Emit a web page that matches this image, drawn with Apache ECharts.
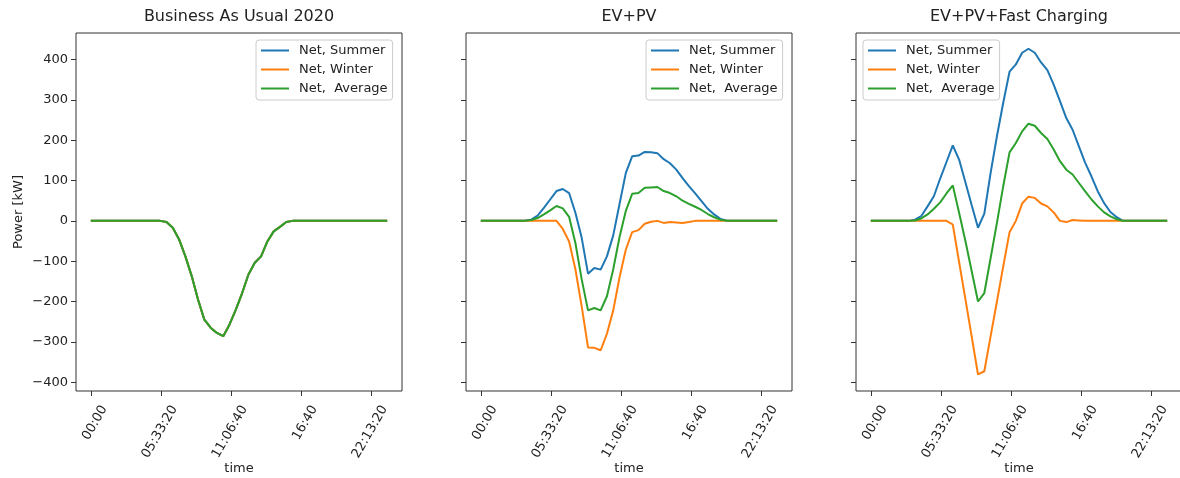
<!DOCTYPE html>
<html><head><meta charset="utf-8">
<script src="https://cdn.jsdelivr.net/npm/echarts@6/dist/echarts.min.js"></script>
<style>html,body{margin:0;padding:0;background:#fff}#c{width:1180px;height:478px}</style>
</head><body><div id="c"></div>
<script>
// time of day in seconds (30-minute steps)
const timeSec = [0,1800,3600,5400,7200,9000,10800,12600,14400,16200,18000,19800,
  21600,23400,25200,27000,28800,30600,32400,34200,36000,37800,39600,41400,
  43200,45000,46800,48600,50400,52200,54000,55800,57600,59400,61200,63000,
  64800,66600,68400,70200,72000,73800,75600,77400,79200,81000,82800,84600];

const panelTitles = ['Business As Usual 2020', 'EV+PV', 'EV+PV+Fast Charging'];
const seriesNames = ['Net, Summer', 'Net, Winter', 'Net,  Average'];

const xTickValues = [0, 20000, 40000, 60000, 80000];
const xTickLabels = ['00:00', '05:33:20', '11:06:40', '16:40', '22:13:20'];
const yTickValues = [-400, -300, -200, -100, 0, 100, 200, 300, 400];

// Business As Usual 2020
const bauSummer = [0,0,0,0,0,0,0,0,0,0,0,0,
  -3,-17,-46,-88,-137,-195,-245,-265,-278,-286,
  -257,-220,-179,-133,-104,-88,-51,-26,-15,-3,
  0,0,0,0,0,0,0,0,0,0,0,0,0,0,0,0];
const bauWinter = [0,0,0,0,0,0,0,0,0,0,0,0,
  -3,-17,-46,-88,-137,-195,-245,-265,-278,-286,
  -257,-220,-179,-133,-104,-88,-51,-26,-15,-3,
  0,0,0,0,0,0,0,0,0,0,0,0,0,0,0,0];
const bauAverage = [0,0,0,0,0,0,0,0,0,0,0,0,
  -3,-17,-46,-88,-137,-195,-245,-265,-278,-286,
  -257,-220,-179,-133,-104,-88,-51,-26,-15,-3,
  0,0,0,0,0,0,0,0,0,0,0,0,0,0,0,0];

// EV+PV
const evSummer = [0,0,0,0,0,0,0,
  1,3,13,32,53,74,79,69,20,-42,
  -131,-117,-121,-88,-36,42,119,160,162,171,
  170,168,153,143,127,106,86,68,49,30,
  16,5,1,
  0,0,0,0,0,0,0,0];
const evWinter = [0,0,0,0,0,0,0,0,0,0,0,0,0,
  -20,-51,-120,-212,-314,-315,-321,-280,-222,-140,
  -71,-28,-23,-7,-2,0,-5,-3,-4,-5,
  -3,
  0,0,0,0,0,0,0,0,0,0,0,0,0,0];
const evAverage = [0,0,0,0,0,0,0,0,
  2,7,16,26,37,31,10,-55,-145,-222,
  -216,-222,-187,-120,-40,25,67,69,82,83,
  84,74,69,61,50,42,35,27,17,9,
  3,
  0,0,0,0,0,0,0,0,0];

// EV+PV+Fast Charging
const fcSummer = [0,0,0,0,0,0,0,
  3,12,36,61,105,146,187,152,96,39,
  -17,18,119,210,293,370,388,417,427,417,
  393,374,338,297,255,226,185,144,110,73,
  44,22,9,
  0,0,0,0,0,0,0,0];
const fcWinter = [0,0,0,0,0,0,0,0,0,0,0,0,0,
  -9,-102,-194,-287,-381,-373,-286,-200,-113,-28,
  0,43,60,57,43,36,21,0,-3,2,
  1,
  0,0,0,0,0,0,0,0,0,0,0,0,0,0];
const fcAverage = [0,0,0,0,0,0,0,
  1,6,16,30,46,68,88,20,-50,-125,
  -200,-179,-92,-5,86,170,193,222,241,236,
  218,203,177,148,127,115,94,73,53,36,
  21,11,4,
  0,0,0,0,0,0,0,0];

const panelData = [
  [bauSummer, bauWinter, bauAverage],
  [evSummer, evWinter, evAverage],
  [fcSummer, fcWinter, fcAverage]
];

const FONT = 'DejaVu Sans';
const TXT = '#222';
const AX = '#333';
const colors = ['#1f77b4', '#ff7f0e', '#2ca02c'];
const gridLefts = [76, 466, 856];
const legendLefts = [256, 646, 863];
const lineIcon = 'path://M0,0L28,0L28,2L0,2Z';

const grid = [], xAxis = [], yAxis = [], title = [], legend = [], series = [];
gridLefts.forEach((l, g) => {
  grid.push({left: l, top: 33, width: 326, height: 358, show: true,
    outerBoundsMode: 'none',
    borderColor: AX, borderWidth: 1, backgroundColor: 'transparent', containLabel: false});
  title.push({text: panelTitles[g], left: l + 163, top: 9, textAlign: 'center', padding: 0,
    textStyle: {fontFamily: FONT, fontSize: 16, fontWeight: 'normal', color: TXT}});
  xAxis.push({gridIndex: g, type: 'value', min: -4230, max: 88830, position: 'bottom',
    splitLine: {show: false}, axisLine: {show: false, onZero: false},
    axisTick: {show: true, customValues: xTickValues, length: 5, lineStyle: {color: AX}},
    axisLabel: {customValues: xTickValues, rotate: 60, align: 'center', verticalAlign: 'middle',
      margin: 39,
      formatter: v => '{t|' + xTickLabels[xTickValues.indexOf(v)] + '}',
      rich: {t: {width: 54, align: 'right', fontSize: 13, fontFamily: FONT, color: TXT}}},
    name: 'time', nameLocation: 'middle', nameGap: 71, nameMoveOverlap: false,
    nameTextStyle: {fontFamily: FONT, fontSize: 13, color: TXT}});
  yAxis.push({gridIndex: g, type: 'value', min: -422, max: 466, position: 'left',
    splitLine: {show: false}, axisLine: {show: false, onZero: false},
    axisTick: {show: true, customValues: yTickValues, length: 5, lineStyle: {color: AX}},
    axisLabel: {show: g === 0, customValues: yTickValues, margin: 8,
      formatter: v => String(v).replace('-', '\u2212'),
      fontFamily: FONT, fontSize: 13, color: TXT},
    name: g === 0 ? 'Power [kW]' : '', nameLocation: 'middle', nameGap: 51, nameRotate: 90,
    nameMoveOverlap: false,
    nameTextStyle: {fontFamily: FONT, fontSize: 13, color: TXT}});
  legend.push({data: seriesNames.map(n => ({name: n, icon: lineIcon})),
    orient: 'vertical', left: legendLefts[g], top: 40, symbolKeepAspect: true,
    padding: [4, 5, 5, 5], itemWidth: 28, itemHeight: 14, itemGap: 6,
    borderColor: '#cccccc', borderWidth: 1, borderRadius: 3,
    backgroundColor: 'rgba(255,255,255,0.8)', selectedMode: false,
    textStyle: {fontFamily: FONT, fontSize: 13, color: TXT, padding: [0, 0, 0, 5]}});
  panelData[g].forEach((vals, k) => {
    series.push({type: 'line', name: seriesNames[k], xAxisIndex: g, yAxisIndex: g,
      data: timeSec.map((t, i) => [t, vals[i]]),
      symbol: 'none', showSymbol: false,
      lineStyle: {color: colors[k], width: 2}, itemStyle: {color: colors[k]},
      z: 2 + k});
  });
});

const chart = echarts.init(document.getElementById('c'));
chart.setOption({animation: false, backgroundColor: '#fff', title, grid, xAxis, yAxis, legend, series});
</script>
</body></html>
